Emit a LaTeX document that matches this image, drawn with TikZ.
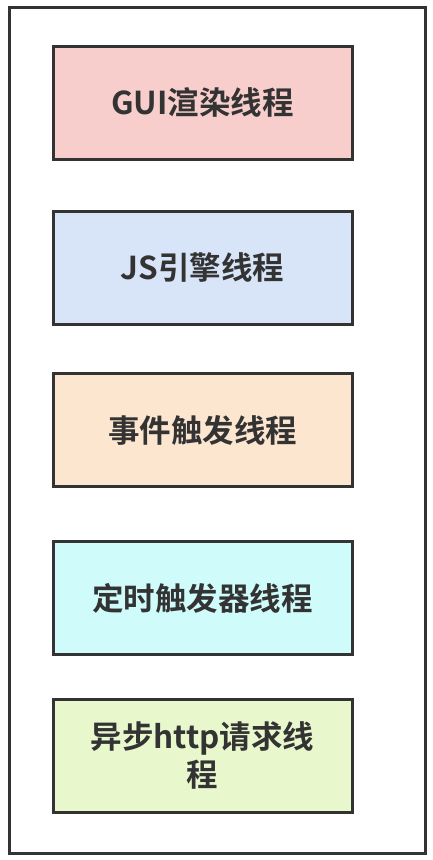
\documentclass[tikz,border=0pt]{standalone}
\usepackage{fontspec}
\setmainfont{Noto Sans CJK SC Bold}
\definecolor{edge}{HTML}{333333}
\definecolor{guicol}{HTML}{F8CECC}
\definecolor{jscol}{HTML}{D8E5F9}
\definecolor{evcol}{HTML}{FCE6CF}
\definecolor{timecol}{HTML}{CFFBFB}
\definecolor{httpcol}{HTML}{E8F7CC}
\tikzset{thread/.style={draw=edge,line width=3pt,minimum width=299pt,minimum height=113pt,
  align=center,text=edge,font=\fontsize{31.5}{38}\selectfont}}
\begin{document}
\begin{tikzpicture}[x=1pt,y=-1pt]
\useasboundingbox (0,0) rectangle (432,860);
\draw[edge,line width=3pt] (9,7) rectangle (425,853);

\node[thread,fill=guicol] (gui) at (202.5,102.5) {GUI渲染线程};
\node[thread,fill=jscol] (js) at (202.5,267.5) {JS引擎线程};
\node[thread,fill=evcol] (event) at (202.5,430) {事件触发线程};
\node[thread,fill=timecol] (timer) at (202.5,598) {定时触发器线程};
\node[thread,fill=httpcol] (http) at (202.5,755.5) {异步http请求线\\程};

\end{tikzpicture}
\end{document}
